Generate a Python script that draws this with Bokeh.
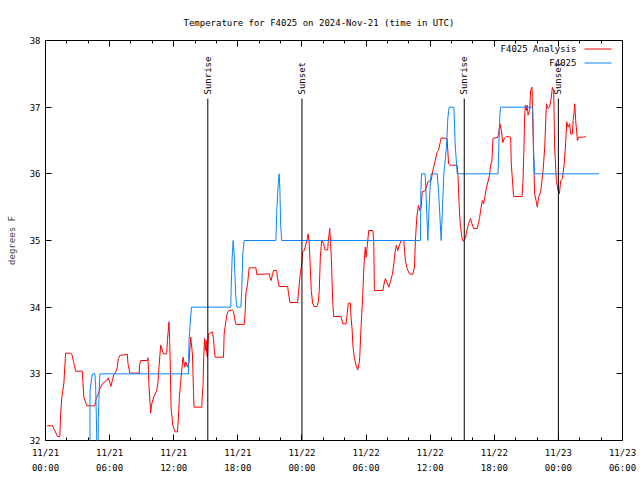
import numpy as np
from bokeh.plotting import figure
from bokeh.models import FixedTicker, LinearAxis, Range1d
from bokeh.core.properties import value
from bokeh.embed import file_html
from bokeh.resources import INLINE

# ---------------- data ----------------
title_text = "Temperature for F4025 on 2024-Nov-21 (time in UTC)"
y_label = "degrees F"

# hours since 2024-11-21 00:00 UTC
x_ticks = [0, 6, 12, 18, 24, 30, 36, 42, 48, 54]
x_minor = list(range(0, 55, 2))
x_date_labels = ["11/21", "11/21", "11/21", "11/21", "11/22", "11/22", "11/22", "11/22", "11/23", "11/23"]
x_time_labels = ["00:00", "06:00", "12:00", "18:00", "00:00", "06:00", "12:00", "18:00", "00:00", "06:00"]
y_ticks = [32, 33, 34, 35, 36, 37, 38]

analysis_name = "F4025 Analysis"
analysis_hours = [
    0.16, 0.66, 0.87, 1.13, 1.34, 1.41, 1.53, 1.72, 1.88, 2.37, 2.50, 2.60, 2.69, 2.81, 3.44, 3.59, 3.87,
    4.62, 4.69, 4.88, 5.00, 5.09, 5.37, 5.72, 5.88, 6.00, 6.12, 6.25, 6.40, 6.59, 6.72, 6.82, 7.00, 7.66,
    7.72, 7.90, 8.78, 8.79, 8.91, 9.53, 9.59, 9.68, 9.84, 9.94, 10.15, 10.41, 10.53, 10.62, 10.78, 11.03,
    11.34, 11.41, 11.56, 11.63, 11.69, 11.75, 11.91, 12.12, 12.35, 12.44, 12.53, 12.66, 12.87, 13.03,
    13.13, 13.28, 13.43, 13.59, 13.75, 13.85, 13.90, 14.63, 14.65, 14.75, 14.81, 14.88, 14.97, 15.03,
    15.09, 15.16, 15.25, 15.63, 15.72, 15.78, 15.87, 16.66, 16.72, 16.85, 16.97, 17.09, 17.50, 17.60,
    17.72, 17.84, 18.59, 18.68, 18.75, 18.91, 19.06, 19.69, 19.78, 20.93, 21.00, 21.12, 21.25, 21.35,
    21.63, 21.72, 21.87, 22.66, 22.75, 22.88, 23.60, 23.69, 23.84, 23.97, 24.07, 24.22, 24.38, 24.47,
    24.59, 24.68, 24.78, 24.87, 25.00, 25.15, 25.41, 25.53, 25.62, 25.72, 25.85, 26.03, 26.16, 26.41,
    26.47, 26.60, 26.69, 26.78, 26.88, 26.97, 27.66, 27.82, 28.13, 28.22, 28.34, 28.53, 28.59, 28.69,
    28.78, 28.90, 29.06, 29.22, 29.34, 29.41, 29.53, 29.69, 29.81, 29.93, 30.00, 30.09, 30.25, 30.63,
    30.72, 30.78, 31.57, 31.66, 31.81, 31.94, 32.13, 32.28, 32.47, 32.60, 32.69, 32.84, 32.97, 33.12,
    33.28, 33.53, 33.68, 33.84, 34.06, 34.38, 34.53, 34.62, 34.75, 34.90, 35.03, 35.16, 35.25, 35.56,
    35.78, 36.09, 36.25, 36.47, 36.66, 36.78, 36.91, 37.03, 37.59, 37.72, 37.85, 38.53, 38.60, 38.69,
    38.81, 38.97, 39.09, 39.31, 39.40, 39.59, 39.78, 39.91, 40.06, 40.41, 40.50, 40.62, 40.72, 40.88,
    41.00, 41.09, 41.28, 41.56, 41.65, 41.78, 41.88, 42.35, 42.53, 42.66, 42.80, 42.94, 43.13, 43.53,
    43.59, 43.81, 44.60, 44.69, 44.78, 44.84, 44.91, 45.00, 45.09, 45.16, 45.31, 45.40, 45.53, 45.56,
    45.72, 45.78, 45.91, 46.03, 46.15, 46.34, 46.57, 46.72, 46.88, 47.03, 47.18, 47.34, 47.44, 47.56,
    47.65, 47.81, 47.97, 48.09, 48.22, 48.38, 48.53, 48.66, 48.78, 48.91, 49.06, 49.15, 49.31, 49.38,
    49.47, 49.53, 49.62, 49.78, 49.91, 50.32, 50.56,
]
analysis_temp = [
    32.22, 32.22, 32.15, 32.06, 32.06, 32.38, 32.65, 32.86, 33.31, 33.31, 33.28, 33.20, 33.14, 33.04, 33.04, 32.65, 32.52,
    32.52, 32.60, 32.68, 32.73, 32.78, 32.86, 32.90, 32.94, 32.88, 32.81, 32.90, 32.99, 33.03, 33.10, 33.23, 33.28, 33.29,
    33.15, 33.01, 33.01, 33.13, 33.20, 33.20, 33.24, 32.83, 32.41, 32.55, 32.66, 32.75, 32.88, 33.10, 33.43, 33.30,
    33.30, 33.50, 33.78, 33.45, 33.05, 32.50, 32.23, 32.13, 32.13, 32.35, 32.65, 32.90, 33.25, 33.10,
    33.18, 33.10, 33.18, 33.55, 33.30, 32.75, 32.50, 32.50, 32.60, 32.85, 33.25, 33.53, 33.35, 33.50,
    33.30, 33.25, 33.60, 33.63, 33.53, 33.40, 33.25, 33.25, 33.60, 33.75, 33.88, 33.94, 33.96, 33.93,
    33.81, 33.74, 33.74, 33.90, 34.20, 34.35, 34.59, 34.59, 34.49, 34.50, 34.45, 34.40, 34.50, 34.55,
    34.55, 34.43, 34.31, 34.31, 34.20, 34.07, 34.07, 34.25, 34.50, 34.63, 34.83, 34.85, 34.95, 35.00,
    35.10, 34.95, 34.60, 34.25, 34.06, 34.01, 34.01, 34.08, 34.25, 34.75, 35.00, 34.95, 34.86, 34.86,
    35.00, 35.18, 34.95, 34.60, 34.08, 33.86, 33.86, 33.75, 33.75, 33.88, 34.06, 34.06, 33.85, 33.68,
    33.40, 33.25, 33.13, 33.06, 33.15, 33.25, 33.70, 34.18, 34.65, 34.90, 34.75, 34.88, 35.15, 35.15,
    35.00, 34.25, 34.25, 34.33, 34.43, 34.38, 34.30, 34.38, 34.50, 34.65, 34.80, 34.93, 34.85, 34.93,
    35.00, 35.00, 34.70, 34.58, 34.50, 34.49, 34.60, 35.00, 35.35, 35.53, 35.45, 35.50, 35.73, 35.75,
    35.88, 35.90, 36.05, 36.20, 36.33, 36.35, 36.45, 36.54, 36.53, 36.15, 36.13, 36.13, 35.98, 35.60,
    35.25, 35.05, 34.99, 35.03, 35.13, 35.25, 35.33, 35.25, 35.18, 35.18, 35.25, 35.33, 35.45, 35.60,
    35.55, 35.63, 35.80, 35.98, 36.13, 36.19, 36.53, 36.55, 36.75, 36.65, 36.47, 36.53, 36.56, 36.55,
    36.15, 35.66, 35.66, 35.90, 36.40, 36.85, 37.03, 36.95, 37.03, 36.88, 36.95, 37.25, 37.30, 37.10,
    36.00, 35.70, 35.60, 35.50, 35.65, 35.73, 36.05, 36.40, 37.05, 36.98, 37.00, 37.15, 37.30, 37.25,
    36.40, 35.90, 35.75, 35.70, 35.90, 35.93, 36.13, 36.40, 36.78, 36.70, 36.75, 36.60, 36.60, 36.80,
    36.93, 37.05, 36.80, 36.50, 36.55, 36.55, 36.56,
]

obs_name = "F4025"
obs_hours = [
    4.15, 4.17, 4.38, 4.62, 4.69, 4.78, 4.90, 4.94, 5.03, 5.09, 13.38, 13.43, 13.57, 13.66, 17.34, 17.37,
    17.47, 17.56, 17.65, 17.72, 17.81, 17.91, 18.28, 18.35, 18.47, 18.59, 21.56, 21.66, 21.78, 21.87,
    21.94, 22.00, 22.10, 35.09, 35.13, 35.19, 35.53, 35.60, 35.78, 35.84, 35.97, 36.09, 36.66, 36.78,
    37.03, 37.15, 37.28, 37.53, 37.66, 37.78, 38.22, 38.34, 38.53, 42.35, 42.44, 42.53, 42.59, 45.59,
    45.63, 45.69, 45.78, 51.82,
]
obs_temp = [
    31.00, 32.75, 33.00, 33.00, 32.82, 32.20, 31.00, 32.30, 32.75, 33.00, 33.00, 33.50, 33.82, 34.00, 34.00, 34.25,
    34.75, 35.00, 34.82, 34.50, 34.15, 34.00, 34.00, 34.20, 34.80, 35.00, 35.00, 35.50, 35.85, 36.00,
    35.75, 35.27, 35.00, 35.00, 35.75, 36.00, 36.00, 35.75, 35.00, 35.25, 35.75, 36.00, 36.00, 35.75,
    35.00, 35.50, 36.00, 36.40, 36.85, 37.00, 37.00, 36.45, 36.00, 36.00, 36.50, 36.90, 37.00, 37.00,
    36.80, 36.30, 36.00, 36.00,
]

sun_hours = [15.19, 24.0, 39.19, 48.0]
sun_names = ["Sunrise", "Sunset", "Sunrise", "Sunset"]

# ---------------- styling ----------------
FONT = "DejaVu Sans Mono"
FS = "9px"
RED = "#ff0000"
BLUE = "#0a84ff"
SUN_LINE_TOP = 37.13
SUN_LABEL_Y = 37.19

p = figure(width=640, height=480, x_range=Range1d(0, 54), y_range=Range1d(32, 38),
           output_backend="svg", toolbar_location=None,
           min_border_left=45, min_border_right=18, min_border_top=40, min_border_bottom=40,
           x_axis_location=None, y_axis_location=None)
p.background_fill_color = "white"
p.border_fill_color = "white"
p.outline_line_color = "black"
p.outline_line_width = 1
p.outline_line_alpha = 1
p.xgrid.visible = False
p.ygrid.visible = False

# title (gnuplot centres it on the whole canvas, not on the frame)
p.title.text = title_text
p.title.text_font = FONT
p.title.text_font_size = FS
p.title.text_font_style = "normal"
p.title.text_color = "black"
p.title.align = "left"
p.title.offset = 138
p.title.standoff = 26

xt = FixedTicker(ticks=x_ticks, minor_ticks=x_minor)
yt = FixedTicker(ticks=y_ticks, minor_ticks=[])


def style_axis(ax, labels=True):
    ax.major_tick_in = 6
    ax.major_tick_out = 0
    ax.minor_tick_in = 3
    ax.minor_tick_out = 0
    ax.major_tick_line_color = "black"
    ax.minor_tick_line_color = "black"
    ax.axis_line_color = None
    ax.major_label_text_font = FONT
    ax.major_label_text_font_size = FS
    ax.major_label_text_color = "black" if labels else None
    ax.major_label_standoff = 6 if labels else 0


# bottom axes: date line and time line
xb = LinearAxis(ticker=xt, major_label_overrides={t: d for t, d in zip(x_ticks, x_date_labels)})
style_axis(xb)
xb.major_label_standoff = 7
p.add_layout(xb, "below")

xb2 = LinearAxis(ticker=FixedTicker(ticks=x_ticks, minor_ticks=[]),
                 major_label_overrides={t: s for t, s in zip(x_ticks, x_time_labels)})
style_axis(xb2)
xb2.major_tick_in = 0
xb2.major_label_standoff = 2
p.add_layout(xb2, "below")

# top mirror ticks
xtop = LinearAxis(ticker=xt)
style_axis(xtop, labels=False)
p.add_layout(xtop, "above")

# left axis
yl = LinearAxis(ticker=yt, axis_label=y_label)
style_axis(yl)
yl.major_label_standoff = 5
yl.axis_label_text_font = FONT
yl.axis_label_text_font_size = FS
yl.axis_label_text_font_style = "normal"
yl.axis_label_standoff = 10
p.add_layout(yl, "left")

# right mirror ticks
yr = LinearAxis(ticker=yt)
style_axis(yr, labels=False)
p.add_layout(yr, "right")

# series
p.line(analysis_hours, analysis_temp, line_color=RED, line_width=1)
p.line(obs_hours, obs_temp, line_color=BLUE, line_width=1)

# gnuplot-style key: text on the left, sample line on the right
key_text_x = 49.69
key_line_x = [50.44, 52.97]
key_y = [37.8725, 37.6625]
p.line(x=key_line_x, y=[key_y[0], key_y[0]], line_color=RED, line_width=1)
p.line(x=key_line_x, y=[key_y[1], key_y[1]], line_color=BLUE, line_width=1)

# sunrise / sunset markers
p.segment(x0=sun_hours, y0=[32] * len(sun_hours), x1=sun_hours, y1=[SUN_LINE_TOP] * len(sun_hours),
          line_color="black", line_width=1)

# texts
p.text(x=sun_hours, y=[SUN_LABEL_Y] * len(sun_hours), text=sun_names, angle=np.pi / 2,
       text_align="left", text_baseline="middle", text_font=value(FONT), text_font_size=FS,
       text_color="black")
p.text(x=[key_text_x] * 2, y=key_y, text=[analysis_name, obs_name], text_align="right",
       text_baseline="middle", text_font=value(FONT), text_font_size=FS, text_color="black")

open("out.html", "w").write(file_html(p, INLINE))
